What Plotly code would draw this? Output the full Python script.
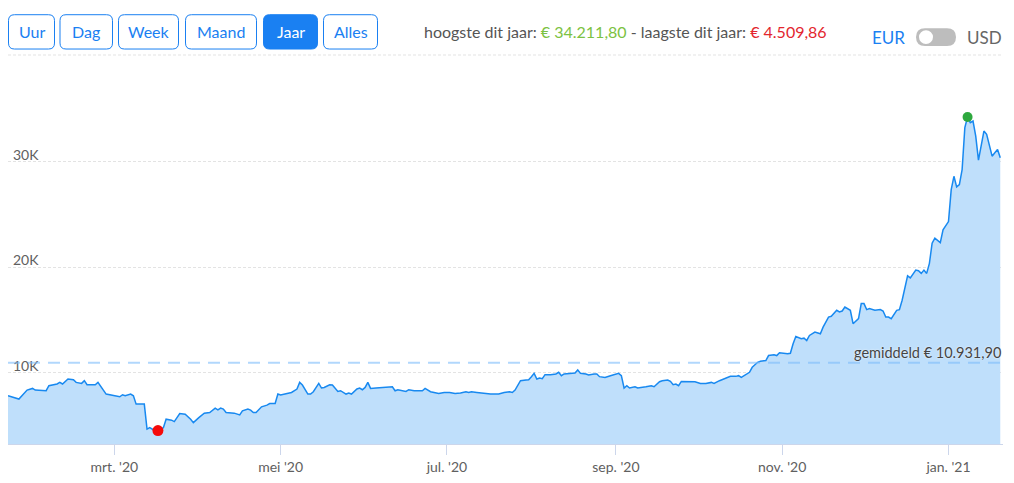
import plotly.graph_objects as go
import pandas as pd

# ---------------- data ----------------
start_date = "2020-01-22"
day_offsets = [
    0, 4, 7, 9, 10, 14, 15, 18, 19, 20, 22, 24, 25, 27, 28, 29, 32, 33, 36, 39,
    41, 42, 43, 45, 46, 47, 50, 51, 52, 53, 55, 57, 58, 60, 61, 63, 65, 67, 68, 70,
    72, 74, 76, 77, 78, 79, 80, 83, 85, 86, 88, 89, 90, 91, 93, 95, 96, 98, 99, 100,
    102, 104, 106, 107, 108, 110, 111, 112, 114, 115, 116, 118, 119, 121, 122, 124, 125, 126, 128, 129,
    130, 131, 132, 133, 135, 138, 141, 142, 143, 146, 147, 149, 152, 153, 154, 155, 158, 160, 162, 164,
    166, 168, 169, 170, 172, 174, 177, 180, 182, 184, 185, 186, 188, 190, 191, 192, 193, 194, 195, 196,
    197, 199, 201, 202, 203, 204, 206, 208, 209, 210, 212, 213, 215, 216, 217, 219, 221, 223, 224, 225,
    226, 227, 228, 230, 231, 234, 236, 237, 239, 240, 242, 243, 244, 245, 246, 247, 250, 251, 252, 254,
    256, 258, 259, 261, 263, 265, 267, 268, 269, 270, 272, 273, 275, 276, 278, 279, 281, 282, 283, 286,
    287, 288, 289, 291, 292, 293, 294, 296, 298, 299, 301, 302, 304, 305, 306, 307, 309, 310, 312, 313,
    314, 315, 316, 318, 320, 321, 322, 323, 324, 326, 327, 328, 330, 331, 333, 334, 335, 336, 337, 338,
    339, 340, 342, 343, 345, 346, 347, 348, 349, 350, 351, 352, 353, 354, 355, 356, 357, 358, 359, 361,
    362, 363, 364,
]
prices_eur = [
    7810, 7495, 8352, 8505, 8352, 8286, 8762, 8924, 9076, 8924, 9400, 9333, 9076, 8981, 9238, 8857, 8857, 9076, 7971, 7810,
    7714, 7905, 7810, 7971, 7810, 7019, 7019, 4650, 4790, 4638, 4509.86, 4790, 5590, 5495, 5362, 6124, 6067, 5590, 5267, 5743,
    6162, 6219, 6638, 6476, 6638, 6543, 6219, 6162, 6000, 6381, 6543, 6448, 6219, 6219, 6762, 6924, 7076, 7076, 7971, 7876,
    8029, 8124, 8448, 9076, 8829, 7971, 7971, 8190, 8981, 8543, 8600, 8857, 8829, 8219, 8286, 7971, 8067, 7971, 8448, 8543,
    8381, 8600, 9076, 8505, 8543, 8600, 8667, 8286, 8381, 8219, 8381, 8286, 8286, 8505, 8381, 8190, 8029, 8124, 8124, 8029,
    8067, 8190, 8124, 8190, 8124, 8067, 7971, 7971, 8124, 8190, 8124, 8352, 9238, 9305, 9333, 9619, 9933, 9400, 9495, 9429,
    9810, 9810, 9876, 10029, 9714, 9876, 9933, 9971, 10257, 9933, 9876, 9781, 9876, 9876, 9619, 9552, 9714, 9876, 9933, 9714,
    8543, 8762, 8543, 8667, 8543, 8667, 8762, 8667, 9143, 9238, 9305, 9171, 8857, 8924, 8762, 9171, 9171, 9143, 9143, 8981,
    8981, 9076, 8981, 9238, 9457, 9648, 9648, 9714, 9552, 9686, 10029, 10505, 10981, 11076, 11143, 11619, 11686, 11619, 11876, 11781,
    11838, 12733, 13429, 13210, 13267, 13048, 13524, 13838, 13686, 14314, 15267, 15333, 15905, 15743, 15838, 16219, 15905, 14638, 15114, 16543,
    16543, 15971, 16067, 15905, 15971, 15838, 15267, 15267, 15114, 15905, 15971, 16857, 19171, 18981, 19714, 19648, 19400, 19714, 19400, 20352,
    22257, 22733, 22314, 23524, 24314, 27333, 28600, 27591, 27810, 29238, 33210, 34211.80, 33686, 33838, 32410, 30124, 31457, 32886, 32571, 30505,
    30829, 31143, 30352,
]
average_eur = 10931.90

x_tick_dates = ["2020-03-01", "2020-05-01", "2020-07-01", "2020-09-01", "2020-11-01", "2021-01-01"]
x_tick_labels = ["mrt. '20", "mei '20", "jul. '20", "sep. '20", "nov. '20", "jan. '21"]
y_tick_values = [10000, 20000, 30000]
y_tick_labels = ["10K", "20K", "30K"]
range_buttons = ["Uur", "Dag", "Week", "Maand", "Jaar", "Alles"]
active_button = "Jaar"
x_range = ["2020-01-22", "2021-01-21"]
y_range = [3240, 40090]

# ---------------- style / layout constants ----------------
FONT = "Lato"
PAGE_OFF = 8                      # browser body margin
W, H = 998, 467
L, R, T, B = 0, 3, 47, 29
PW, PH = W - L - R, H - T - B
LINE_BLUE = "#1889f0"
FILL_BLUE = "#bfdffb"
BTN_BLUE = "#1a80f2"
GREY_TEXT = "#606060"
GREEN = "#7cc242"
RED = "#e3262e"


def px_x(px):  # screen pixel -> paper x
    return (px - PAGE_OFF - L) / PW


def px_y(py):  # screen pixel -> paper y
    return (H - B - (py - PAGE_OFF)) / PH


def nl(v):
    s = f"{v:,.2f}"
    return s.replace(",", "X").replace(".", ",").replace("X", ".")


def rounded_rect(x0, y0, x1, y1, r):
    rx, ry = r / PW, r / PH
    a0, a1 = px_x(x0), px_x(x1)
    b0, b1 = px_y(y1), px_y(y0)
    return (f"M{a0+rx},{b0} L{a1-rx},{b0} Q{a1},{b0} {a1},{b0+ry} "
            f"L{a1},{b1-ry} Q{a1},{b1} {a1-rx},{b1} L{a0+rx},{b1} "
            f"Q{a0},{b1} {a0},{b1-ry} L{a0},{b0+ry} Q{a0},{b0} {a0+rx},{b0} Z")


dates = pd.to_datetime(start_date) + pd.to_timedelta(day_offsets, unit="D")
s = pd.Series(prices_eur, index=dates)
i_max, i_min = s.idxmax(), s.idxmin()

fig = go.Figure()
fig.add_trace(go.Scatter(
    x=dates, y=prices_eur, mode="lines",
    line=dict(color=LINE_BLUE, width=1.5),
    fill="tozeroy", fillcolor=FILL_BLUE, hoverinfo="skip", showlegend=False,
))
fig.add_trace(go.Scatter(
    x=[i_min], y=[s[i_min]], mode="markers",
    marker=dict(color="#f50a0a", size=11), showlegend=False, hoverinfo="skip",
))
fig.add_trace(go.Scatter(
    x=[i_max], y=[s[i_max]], mode="markers",
    marker=dict(color="#2ea83e", size=10), showlegend=False, hoverinfo="skip",
))

shapes = []
annotations = []

# average line
shapes.append(dict(type="line", xref="paper", x0=0, x1=1, yref="y", y0=average_eur, y1=average_eur,
                   line=dict(color="rgba(125,188,250,0.6)", width=2, dash="12px,8px"), layer="above"))
annotations.append(dict(xref="paper", x=1, xanchor="right", yref="y", y=average_eur, yanchor="bottom",
                        yshift=0, showarrow=False, text=f"gemiddeld € {nl(average_eur)}",
                        font=dict(family=FONT, size=14.5, color="#444444", shadow="0px 0px 2px white")))

# top separator
shapes.append(dict(type="line", xref="paper", x0=0, x1=1, yref="paper", y0=1, y1=1,
                   line=dict(color="#e3e3e3", width=1, dash="3px,2px")))

# range buttons
btn_extents = [(8.5, 54.5), (60, 112.5), (118.5, 178.5), (185.5, 256.5), (263.5, 317.5), (323.5, 377.5)]
for label, (bx0, bx1) in zip(range_buttons, btn_extents):
    active = label == active_button
    shapes.append(dict(type="path", xref="paper", yref="paper", path=rounded_rect(bx0, 14.5, bx1, 49, 6),
                       line=dict(color=BTN_BLUE, width=1),
                       fillcolor=BTN_BLUE if active else "white"))
    annotations.append(dict(xref="paper", yref="paper", x=px_x((bx0 + bx1) / 2), y=px_y(31.5),
                            xanchor="center", yanchor="middle", showarrow=False, text=label,
                            font=dict(family=FONT, size=16, color="white" if active else BTN_BLUE)))

# header stats
annotations.append(dict(
    xref="paper", yref="paper", x=px_x(625), y=px_y(31), xanchor="center", yanchor="middle", showarrow=False,
    text=(f"hoogste dit jaar: <span style='color:{GREEN}'>€ {nl(s.max())}</span> - "
          f"laagste dit jaar: <span style='color:{RED}'>€ {nl(s.min())}</span>"),
    font=dict(family=FONT, size=16, color="#555555")))

# currency toggle
annotations.append(dict(xref="paper", yref="paper", x=px_x(907), y=px_y(37.5), xanchor="right", yanchor="middle",
                        showarrow=False, text="EUR", font=dict(family=FONT, size=17, color="#1a80f2")))
annotations.append(dict(xref="paper", yref="paper", x=px_x(965), y=px_y(37.5), xanchor="left", yanchor="middle",
                        showarrow=False, text="USD", font=dict(family=FONT, size=17, color="#666666")))
shapes.append(dict(type="path", xref="paper", yref="paper", path=rounded_rect(916, 28, 956, 46, 9),
                   line=dict(width=0), fillcolor="#bdbdbd"))
shapes.append(dict(type="circle", xref="paper", yref="paper", x0=px_x(919), x1=px_x(933), y0=px_y(44), y1=px_y(30),
                   line=dict(width=0), fillcolor="white"))

fig.update_layout(
    width=W, height=H, margin=dict(l=L, r=R, t=T, b=B),
    paper_bgcolor="white", plot_bgcolor="white",
    font=dict(family=FONT, color=GREY_TEXT),
    shapes=shapes, annotations=annotations, showlegend=False,
    xaxis=dict(type="date", range=x_range, tickvals=x_tick_dates, ticktext=x_tick_labels,
               showgrid=False, zeroline=False, showline=True, linecolor="#ccd6eb", linewidth=1,
               ticks="outside", ticklen=10, tickcolor="#ccd6eb", tickwidth=1,
               tickfont=dict(family=FONT, size=14, color=GREY_TEXT)),
    yaxis=dict(range=y_range, tickvals=y_tick_values, ticktext=y_tick_labels,
               showgrid=True, gridcolor="#e3e3e3", griddash="3px,2px", gridwidth=1,
               zeroline=False, showline=False, ticks="",
               ticklabelposition="inside top", ticklabelstandoff=2, ticklabelshift=3,
               tickfont=dict(family=FONT, size=14, color=GREY_TEXT)),
)

fig.write_html("out.html")
